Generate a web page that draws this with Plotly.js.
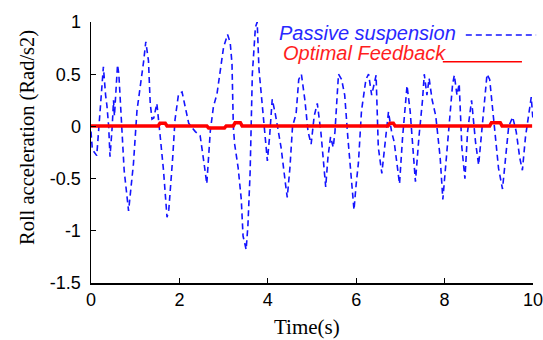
<!DOCTYPE html>
<html>
<head>
<meta charset="utf-8">
<script src="https://cdn.plot.ly/plotly-3.0.1.min.js"></script>
<style>html,body{margin:0;padding:0;background:#fff;}#chart{width:543px;height:340px;}</style>
</head>
<body>
<div id="chart"></div>
<script>
// Passive suspension (blue dashed) - time (s) and roll acceleration (rad/s^2)
const passiveTime = [0.00,0.03,0.13,0.20,0.28,0.33,0.36,0.40,0.43,0.48,0.51,0.53,0.56,0.60,0.63,0.66,0.75,0.85,0.90,0.96,
  1.04,1.11,1.19,1.24,1.30,1.34,1.38,1.42,1.49,1.56,1.64,1.72,1.76,1.85,1.90,1.98,2.06,2.13,2.21,2.36,
  2.47,2.56,2.62,2.70,2.77,2.85,2.92,3.00,3.09,3.15,3.19,3.22,3.25,3.33,3.40,3.44,3.51,3.55,3.60,3.65,
  3.72,3.76,3.80,3.88,3.93,3.99,4.04,4.10,4.17,4.30,4.40,4.44,4.50,4.56,4.64,4.70,4.76,4.84,4.91,4.98,
  5.05,5.12,5.20,5.26,5.31,5.36,5.42,5.48,5.52,5.57,5.60,5.67,5.74,5.81,5.88,5.95,6.00,6.05,6.12,6.22,
  6.28,6.35,6.45,6.50,6.58,6.64,6.73,6.80,6.86,6.92,6.98,7.05,7.15,7.22,7.27,7.34,7.42,7.50,7.54,7.60,
  7.65,7.72,7.80,7.90,7.96,8.03,8.10,8.18,8.22,8.28,8.33,8.39,8.46,8.52,8.61,8.70,8.77,8.84,8.90,8.96,
  9.02,9.08,9.14,9.22,9.31,9.37,9.45,9.54,9.62,9.70,9.76,9.83,9.92,9.96,10.00];
const passiveAccel = [-0.05,-0.22,-0.28,0.10,0.57,0.30,0.20,0.00,-0.29,0.00,0.25,0.10,0.30,0.59,0.50,0.25,-0.42,-0.81,-0.58,-0.36,
  0.15,0.35,0.62,0.81,0.63,0.22,0.07,0.08,0.22,-0.07,-0.42,-0.87,-0.80,-0.29,0.06,0.31,0.33,0.19,0.03,-0.05,
  -0.09,-0.36,-0.55,-0.04,0.19,0.31,0.51,0.76,0.88,0.80,0.60,0.00,-0.17,-0.40,-0.70,-1.05,-1.18,-0.95,-0.44,0.50,
  0.95,1.00,0.55,0.20,-0.05,-0.33,-0.10,0.26,0.12,-0.20,-0.55,-0.68,-0.40,0.00,0.12,0.45,0.50,0.25,-0.05,-0.17,
  0.10,0.22,-0.05,-0.35,-0.58,-0.30,-0.10,-0.20,-0.05,0.30,0.50,0.45,0.30,-0.10,-0.45,-0.80,-0.55,-0.35,0.15,0.45,
  0.50,0.30,0.49,-0.20,-0.45,-0.20,0.14,-0.05,-0.15,-0.35,-0.55,-0.10,0.39,0.15,-0.10,-0.53,-0.10,0.25,0.50,0.30,
  0.46,0.25,0.10,-0.30,-0.70,-0.35,0.00,0.40,0.49,0.30,0.41,-0.20,-0.50,-0.05,0.25,-0.15,-0.37,-0.05,0.20,0.50,
  0.45,0.20,-0.05,-0.40,-0.60,-0.35,0.00,0.09,-0.05,-0.30,-0.42,-0.10,0.20,0.28,0.06];

// Optimal feedback (red solid)
const optimalTime = [0,1.52,1.56,1.68,1.72,2.62,2.66,3.02,3.06,3.22,3.26,3.38,3.42,6.72,6.76,6.84,6.88,9.02,9.06,9.26,9.30,9.98];
const optimalAccel = [0.005,0.005,0.03,0.03,0.005,0.005,-0.015,-0.015,0.005,0.005,0.035,0.035,0.005,0.005,0.03,0.03,0.005,0.005,0.035,0.035,0.005,0.005];

const xTicks = [0,2,4,6,8,10];
const yTicks = [-1.5,-1,-0.5,0,0.5,1];
const yTickText = ['-1.5','-1','-0.5','0','0.5','1'];

const seriesNames = ['Passive suspension','Optimal Feedback'];
const xTitle = 'Time(s)';
const yTitle = 'Roll acceleration (Rad/s2)';

const traces = [
  {x: passiveTime, y: passiveAccel, type: 'scatter', mode: 'lines', name: seriesNames[0],
   line: {color: 'rgb(20,20,255)', width: 1.6, dash: '6px,4px'}},
  {x: optimalTime, y: optimalAccel, type: 'scatter', mode: 'lines', name: seriesNames[1],
   line: {color: 'rgb(255,0,0)', width: 3.5}}
];

const tickFont = {family: 'Liberation Sans, Arial, sans-serif', size: 18, color: '#000'};
const layout = {
  width: 543, height: 340,
  margin: {l: 91, r: 10, t: 22, b: 57},
  paper_bgcolor: '#fff', plot_bgcolor: '#fff',
  showlegend: false,
  xaxis: {range: [0, 10], tickvals: xTicks, ticktext: xTicks.map(String), ticks: 'inside', ticklen: 5,
          tickcolor: '#000', tickwidth: 1, showline: true, linecolor: '#000', linewidth: 1.5,
          showgrid: false, zeroline: false, tickfont: tickFont, ticklabeloverflow: 'allow', fixedrange: true},
  yaxis: {range: [-1.5, 1], tickvals: yTicks, ticktext: yTickText, ticks: 'inside', ticklen: 5,
          tickcolor: '#000', tickwidth: 1, showline: true, linecolor: '#000', linewidth: 1.5,
          showgrid: false, zeroline: false, tickfont: tickFont, ticklabelstandoff: 5, fixedrange: true},
  annotations: [
    {xref: 'paper', yref: 'paper', x: 0.489, y: -0.168, text: xTitle, showarrow: false,
     xanchor: 'center', yanchor: 'middle', font: {family: 'Liberation Serif, Times New Roman, serif', size: 21, color: '#000'}},
    {xref: 'paper', yref: 'paper', x: -0.145, y: 0.559, text: yTitle, showarrow: false, textangle: -90,
     xanchor: 'center', yanchor: 'middle', font: {family: 'Liberation Serif, Times New Roman, serif', size: 20.5, color: '#000'}},
    {xref: 'paper', yref: 'paper', x: 0.421, y: 0.958, text: '<i>' + seriesNames[0] + '</i>', showarrow: false,
     xanchor: 'left', yanchor: 'middle', font: {family: 'Liberation Sans, Arial, sans-serif', size: 20, color: 'rgb(40,40,255)'}},
    {xref: 'paper', yref: 'paper', x: 0.429, y: 0.881, text: '<i>' + seriesNames[1] + '</i>', showarrow: false,
     xanchor: 'left', yanchor: 'middle', font: {family: 'Liberation Sans, Arial, sans-serif', size: 20, color: 'rgb(255,30,30)'}}
  ],
  shapes: [
    {type: 'line', xref: 'paper', yref: 'paper', x0: 0.848, x1: 1.007, y0: 0.950, y1: 0.950,
     line: {color: 'rgb(20,20,255)', width: 1.5, dash: '6px,4px'}},
    {type: 'line', xref: 'paper', yref: 'paper', x0: 0.796, x1: 0.975, y0: 0.848, y1: 0.848,
     line: {color: 'rgb(255,0,0)', width: 1.5}}
  ]
};

Plotly.newPlot('chart', traces, layout, {displayModeBar: false, staticPlot: true});
</script>
</body>
</html>
